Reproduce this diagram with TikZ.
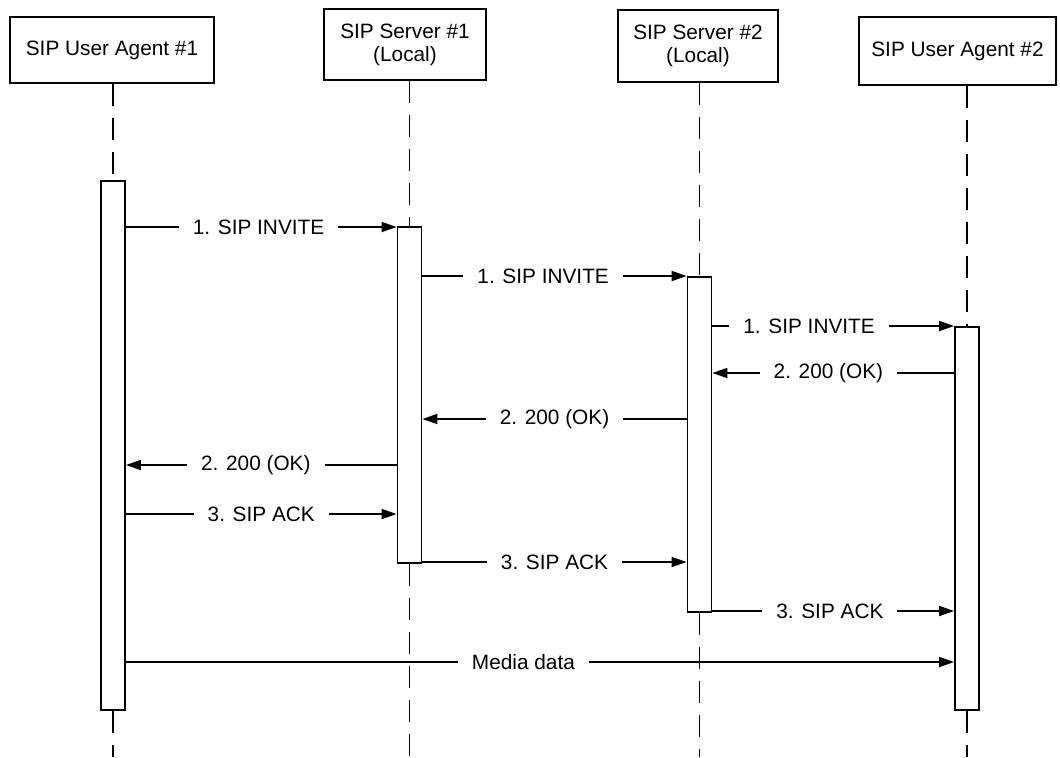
\documentclass[tikz,border=0pt]{standalone}
\usepackage{fontspec}
\setmainfont{Liberation Sans}
\usetikzlibrary{arrows.meta}
\begin{document}
\begin{tikzpicture}[x=0.5pt,y=-0.5pt,
  every node/.style={font=\fontsize{10.4}{11.5}\selectfont},
  actor/.style={draw,line width=0.95pt,rectangle,align=center,inner sep=0pt},
  bar/.style={draw,line width=0.9pt,fill=white,minimum width=12pt,inner sep=0pt,anchor=north},
  life/.style={line width=0.8pt,dash pattern=on 11pt off 6pt},
  msg/.style={line width=0.85pt,-{Triangle[length=7.5pt,width=5pt]}},
  lbl/.style={fill=white,inner xsep=7pt,inner ysep=1pt}]
\useasboundingbox (0,0) rectangle (1060,757);
% actors
\node[actor,minimum width=102pt,minimum height=33pt] (ua1) at (112,50) {SIP User Agent \#1};
\node[actor,minimum width=81pt,minimum height=35.5pt] (s1) at (405,44.5) {SIP Server \#1\\(Local)};
\node[actor,minimum width=80pt,minimum height=36pt] (s2) at (698,46) {SIP Server \#2\\(Local)};
\node[actor,minimum width=98.5pt,minimum height=34pt] (ua2) at (957.5,51) {SIP User Agent \#2};
% activation bars
\node[bar,minimum height=264.5pt] (b1) at (113,180) {};
\node[bar,minimum height=168pt] (b2) at (409.5,226) {};
\node[bar,minimum height=167.5pt] (b3) at (699.5,276) {};
\node[bar,minimum height=191.5pt] (b4) at (967,326) {};
\coordinate (bot) at (0,757);
% lifelines
\draw[life] (b1.north |- ua1.south) -- (b1.north);
\draw[life] (b1.south) -- (b1.south |- bot);
\draw[life] (b2.north |- s1.south) -- (b2.north);
\draw[life] (b2.south) -- (b2.south |- bot);
\draw[life] (b3.north |- s2.south) -- (b3.north);
\draw[life] (b3.south) -- (b3.south |- bot);
\draw[life] (b4.north |- ua2.south) -- (b4.north);
\draw[life] (b4.south) -- (b4.south |- bot);
% messages
\draw[msg] (b1.east |- 0,227) -- node[lbl,pos=0.49]{1. SIP INVITE} (b2.west |- 0,227);
\draw[msg] (b2.east |- 0,276) -- node[lbl,pos=0.457]{1. SIP INVITE} (b3.west |- 0,276);
\draw[msg] (b3.east |- 0,326) -- node[lbl,pos=0.40]{1. SIP INVITE} (b4.west |- 0,326);
\draw[msg] (b4.west |- 0,373) -- node[lbl,pos=0.52]{2. 200 (OK)} (b3.east |- 0,373);
\draw[msg] (b3.west |- 0,419) -- node[lbl,pos=0.50]{2. 200 (OK)} (b2.east |- 0,419);
\draw[msg] (b2.west |- 0,465) -- node[lbl,pos=0.52]{2. 200 (OK)} (b1.east |- 0,465);
\draw[msg] (b1.east |- 0,514) -- node[lbl,pos=0.50]{3. SIP ACK} (b2.west |- 0,514);
\draw[msg] (b2.east |- 0,562) -- node[lbl,pos=0.50]{3. SIP ACK} (b3.west |- 0,562);
\draw[msg] (b3.east |- 0,611) -- node[lbl,pos=0.486]{3. SIP ACK} (b4.west |- 0,611);
\draw[msg] (b1.east |- 0,662) -- node[lbl,pos=0.48]{Media data} (b4.west |- 0,662);
\end{tikzpicture}
\end{document}
